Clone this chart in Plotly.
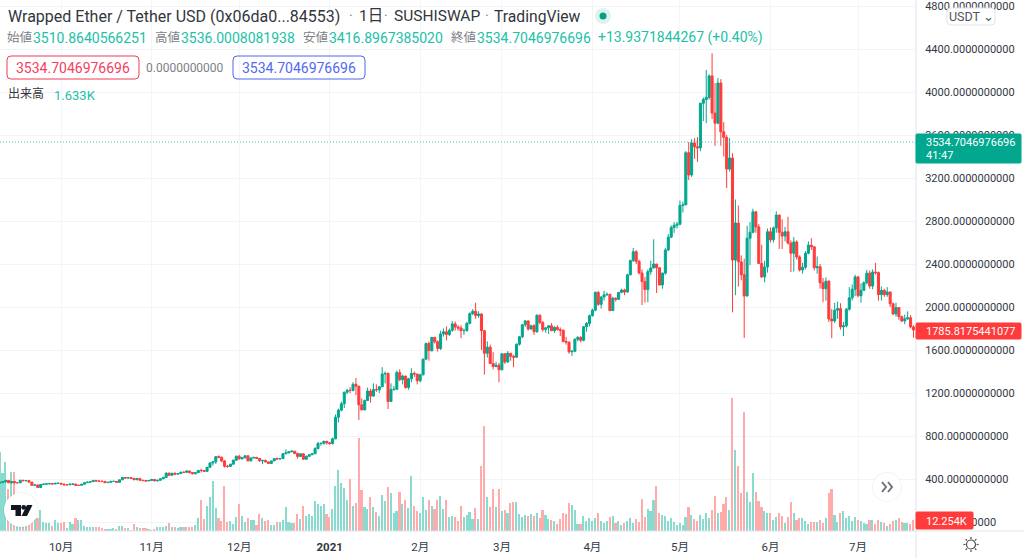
import math
import pandas as pd
import plotly.graph_objects as go

FIRST_DAY = "2020-09-10"

opens = [
    362,368,374,387,365,377,365,365,388,384,385,371,341,344,321,349,352,355,357,354,360,
    360,353,346,346,352,353,341,341,351,366,371,375,387,381,379,378,366,369,378,378,369,392,414,409,412,406,393,404,388,386,382,
    386,396,383,388,402,415,455,435,454,445,450,463,462,475,460,448,459,480,479,471,509,550,560,608,603,568,518,517,538,575,
    612,587,598,616,569,596,601,591,569,573,559,545,568,590,586,589,635,643,654,659,638,610,634,584,611,626,635,683,731,731,751,
    737,730,774,975,1040,1100,1208,1225,1224,1281,1262,1090,1043,1130,1218,1171,1233,1230,1257,1377,1382,1121,1233,1234,1390,1324,1357,1252,1332,1382,1376,
    1314,1369,1515,1660,1594,1718,1677,1614,1750,1769,1744,1783,1843,1813,1805,1780,1781,1848,1938,1960,1920,1935,1780,1570,1626,1475,1446,1459,
    1416,1565,1489,1570,1541,1533,1654,1723,1835,1870,1795,1826,1770,1924,1855,1791,1806,1825,1780,1811,1788,1784,1680,1673,1583,1588,1700,1716,1690,1817,1847,
    1919,1970,2136,2025,2093,2113,2117,1966,2082,2072,2136,2158,2139,2299,2432,2514,2424,2316,2236,2162,2329,2363,2400,2365,2205,2315,2530,2650,2740,2760,
    2770,2945,2950,3435,3228,3525,3490,3480,3895,3930,3950,4150,3804,3710,4083,3630,3578,3283,3386,2437,2781,2420,2300,2102,2640,2695,2885,2745,2405,2280,2372,
    2700,2625,2735,2855,2695,2660,2700,2595,2500,2605,2465,2345,2370,2500,2575,2560,2365,2375,2225,2170,2240,1888,1870,1970,1985,1815,1825,1980,2085,2165,
    2280,2105,2155,2225,2315,2195,2325,2320,2115,2155,2115,2140,2030,1935,1995,1910,1870,1890,1900,1815,
]
highs = [
    378,380,392,388,382,382,370,392,392,389,385,372,352,348,352,358,360,361,362,362,365,
    362,355,350,355,356,354,344,354,368,374,376,390,389,385,382,381,370,379,383,380,394,420,416,417,415,410,410,410,393,389,392,
    400,396,392,405,420,460,458,456,460,455,467,470,480,477,463,462,484,495,482,512,552,565,612,620,608,575,530,540,580,618,
    625,605,620,618,598,606,605,594,578,580,561,570,592,600,596,640,676,660,665,660,645,640,640,618,632,640,696,745,740,755,753,
    745,785,1000,1055,1120,1210,1240,1255,1300,1340,1270,1150,1140,1250,1240,1290,1280,1265,1440,1400,1390,1290,1265,1410,1420,1370,1360,1340,1430,1400,1380,
    1380,1520,1670,1680,1720,1700,1690,1780,1800,1820,1800,1870,1865,1830,1830,1800,1860,1950,1980,2040,1960,1940,1760,1680,1650,1580,1490,1480,
    1570,1570,1590,1570,1555,1660,1730,1840,1880,1875,1835,1840,1930,1930,1870,1815,1830,1850,1820,1830,1810,1790,1720,1680,1600,1710,1730,1730,1820,1860,1930,
    1985,2145,2150,2100,2150,2135,2125,2095,2090,2140,2170,2170,2310,2440,2550,2530,2440,2350,2280,2350,2430,2630,2400,2370,2320,2550,2680,2760,2790,2790,
    2990,2980,3450,3535,3560,3570,3580,3900,3950,4205,4165,4360,4083,4130,4120,3720,3600,3570,3430,3000,2945,2480,2450,2755,2790,2915,2895,2770,2580,2430,2730,
    2740,2750,2890,2860,2815,2745,2840,2620,2650,2620,2480,2410,2520,2610,2640,2565,2470,2400,2270,2275,2250,1980,2040,2050,2035,1860,1990,2185,2210,2300,
    2290,2220,2240,2345,2340,2350,2410,2330,2190,2170,2185,2140,2040,2040,2000,1920,1930,1960,1925,1830,
]
lows = [
    355,360,365,362,360,358,362,360,380,381,367,335,338,316,316,345,350,351,350,351,355,
    350,340,343,344,348,339,338,340,348,365,369,374,378,375,374,362,364,368,374,365,367,390,402,403,400,390,390,385,378,375,380,
    383,378,376,385,400,414,428,432,440,443,448,455,458,452,445,445,456,460,465,470,505,525,540,592,555,505,505,515,535,572,
    582,584,590,565,562,590,587,560,538,555,545,540,568,583,585,587,630,640,648,630,590,610,580,578,606,622,632,676,710,720,720,
    718,720,770,925,1030,1060,1190,1200,1215,1180,950,1040,1040,1125,1110,1170,1210,1200,1260,1290,1051,1130,1220,1235,1310,1280,1240,1232,1300,1350,1280,
    1300,1365,1510,1500,1585,1660,1585,1600,1725,1690,1730,1770,1780,1780,1710,1740,1770,1840,1925,1890,1900,1600,1370,1530,1470,1420,1440,1300,
    1410,1470,1480,1500,1440,1530,1640,1710,1815,1780,1790,1740,1760,1840,1770,1760,1750,1775,1760,1785,1730,1670,1650,1565,1545,1580,1680,1670,1680,1770,1820,
    1910,1960,2010,1985,2060,2105,1965,1965,2050,2065,2130,2110,2135,2295,2420,2400,2305,2018,2040,2045,2300,2360,2130,2200,2170,2300,2520,2640,2690,2730,
    2760,2880,2950,3180,3210,3380,3350,3450,3730,3710,3930,3750,3500,3700,3500,3400,3107,3260,1950,2110,2190,2250,1712,2100,2390,2685,2690,2400,2270,2230,2320,
    2600,2600,2690,2540,2540,2610,2580,2325,2330,2440,2330,2310,2350,2490,2530,2340,2310,2170,2045,2060,1860,1710,1850,1890,1790,1730,1810,1965,2060,2100,
    2090,2040,2150,2210,2170,2165,2300,2060,2060,2095,2095,2000,1925,1910,1880,1860,1840,1880,1800,1715,
]
closes = [
    368,374,387,365,377,365,365,388,384,385,371,341,344,321,349,352,355,357,354,360,360,
    353,346,346,352,353,341,341,351,366,371,375,387,381,379,378,366,369,378,378,369,392,414,409,412,406,393,404,388,386,382,386,
    396,383,388,402,415,455,435,454,445,450,463,462,475,460,448,459,480,479,471,509,550,560,608,603,568,518,517,538,575,612,
    587,598,616,569,596,601,591,569,573,559,545,568,590,586,589,635,643,654,659,638,610,634,584,611,626,635,683,731,731,751,737,
    730,774,975,1040,1100,1208,1225,1224,1281,1262,1090,1043,1130,1218,1171,1233,1230,1257,1377,1382,1121,1233,1234,1390,1324,1357,1252,1332,1382,1376,1314,
    1369,1515,1660,1594,1718,1677,1614,1750,1769,1744,1783,1843,1813,1805,1780,1781,1848,1938,1960,1920,1935,1780,1570,1626,1475,1446,1459,1416,
    1565,1489,1570,1541,1533,1654,1723,1835,1870,1795,1826,1770,1924,1855,1791,1806,1825,1780,1811,1788,1784,1680,1673,1583,1588,1700,1716,1690,1817,1847,1919,
    1970,2136,2025,2093,2113,2117,1966,2082,2072,2136,2158,2139,2299,2432,2514,2424,2316,2236,2162,2329,2363,2400,2365,2205,2315,2530,2650,2740,2760,2770,
    2945,2950,3435,3228,3525,3490,3480,3895,3930,3950,4150,3804,3710,4083,3630,3578,3283,3386,2437,2781,2420,2300,2102,2640,2695,2885,2745,2405,2280,2372,2700,
    2625,2735,2855,2695,2660,2700,2595,2500,2605,2465,2345,2370,2500,2575,2560,2365,2375,2225,2170,2240,1888,1870,1970,1985,1815,1825,1980,2085,2165,2280,
    2105,2155,2225,2315,2195,2325,2320,2115,2155,2115,2140,2030,1935,1995,1910,1870,1890,1900,1815,1785.8175441077,
]
volumes_k = [
    91,66,79,48,68,68,40,23,17,16,18,14,14,15,
    24,10,9,9,6,13,9,9,10,3,10,8,15,13,13,6,5,5,5,5,5,4,2,2,2,3,2,6,6,3,3,1,8,5,4,3,3,2,1,2,5,5,5,6,9,
    5,5,3,5,5,5,5,5,7,15,36,14,29,39,57,26,15,11,52,10,11,8,16,31,17,10,15,13,13,7,19,15,11,13,7,7,10,10,13,28,10,9,9,19,14,29,17,19,17,34,31,29,31,19,16,25,52,70,55,
    49,36,60,29,32,107,47,28,25,39,28,22,17,41,34,50,44,21,23,45,31,36,26,63,29,23,21,39,24,36,29,25,36,40,25,36,16,17,16,11,29,16,18,22,
    14,26,14,74,120,39,28,48,28,48,23,24,21,32,33,33,19,16,18,17,19,17,21,15,24,18,14,13,11,8,14,21,19,32,30,24,8,8,17,11,15,11,15,21,11,9,11,16,17,9,11,
    7,9,11,15,9,14,10,37,16,25,23,36,52,21,18,17,11,15,10,7,9,7,16,28,18,14,11,18,14,21,15,24,40,21,22,31,39,24,152,93,74,44,136,45,33,66,45,34,28,23,21,21,13,16,21,17,9,16,33,21,13,15,15,11,8,10,10,10,13,9,15,44,48,18,10,21,23,15,17,11,16,13,11,9,8,13,13,8,13,10,9,6,8,11,13,15,10,9,9,8,12.254,
]

month_ticks = ["2020-10-01","2020-11-01","2020-12-01","2021-01-01","2021-02-01","2021-03-01","2021-04-01","2021-05-01","2021-06-01","2021-07-01"]
month_labels = ["10月","11月","12月","<b>2021</b>","2月","3月","4月","5月","6月","7月"]
price_ticks = [0,400,800,1200,1600,2000,2400,2800,3200,3600,4000,4400,4800]

symbol_title = "Wrapped Ether / Tether USD (0x06da0...84553)"
interval_label = "1日"
exchange_label = "SUSHISWAP"
platform_label = "TradingView"
ohlc_names = ["始値","高値","安値","終値"]
ohlc_values = ["3510.8640566251","3536.0008081938","3416.8967385020","3534.7046976696"]
change_label = "+13.9371844267 (+0.40%)"
last_price = 3534.7046976696
current_volume = "1.633K"

TEAL = "#02A78F"
RED = "#FF3B3B"
TEAL_VOL = "#8ADBCF"
RED_VOL = "#FFABAB"
TEAL_TEXT = "#22BFA8"
GRID = "#F3F4F7"
BORDER = "#E0E3EB"
INK = "#333842"
GREY = "#7C7F87"
FONT = "Roboto, 'Noto Sans CJK JP', sans-serif"

W, H = 1024, 558
PLOT_R, PLOT_B = 916, 531

def fx(px): return px / W
def fy(py): return 1 - py / H

def rrect(x0, y0, x1, y1, r=3):
    return ("M{a},{b} L{c},{b} Q{d},{b} {d},{e} L{d},{f} Q{d},{g} {c},{g} L{a},{g} Q{h},{g} {h},{f} L{h},{e} Q{h},{b} {a},{b} Z"
            .format(a=fx(x0+r), b=fy(y0), c=fx(x1-r), d=fx(x1), e=fy(y0+r), f=fy(y1-r), g=fy(y1), h=fx(x0)))

def box(x0, y0, x1, y1, fill, line, r=3, width=1):
    return dict(type="path", xref="paper", yref="paper", path=rrect(x0, y0, x1, y1, r), fillcolor=fill,
                line=dict(color=line, width=width), layer="above")

def circle(cx, cy, r, fill, line="rgba(0,0,0,0)", width=1):
    return dict(type="circle", xref="paper", yref="paper", x0=fx(cx-r), x1=fx(cx+r), y0=fy(cy+r), y1=fy(cy-r),
                fillcolor=fill, line=dict(color=line, width=width), layer="above")

def path(points, fill="rgba(0,0,0,0)", line="rgba(0,0,0,0)", width=1, close=True):
    d = "M" + " L".join(f"{fx(x)},{fy(y)}" for x, y in points) + (" Z" if close else "")
    return dict(type="path", xref="paper", yref="paper", path=d, fillcolor=fill, line=dict(color=line, width=width), layer="above")

def text(px, py, s, color=INK, size=14, anchor="left"):
    return dict(x=fx(px), y=fy(py), xref="paper", yref="paper", text=s, showarrow=False, xanchor=anchor, yanchor="middle",
                font=dict(family=FONT, size=size, color=color), borderpad=0, borderwidth=0, align=anchor)

dates = pd.date_range(FIRST_DAY, periods=len(closes), freq="D")
vol_colors = [TEAL_VOL if c >= o else RED_VOL for o, c in zip(opens, closes)]

fig = go.Figure()
fig.add_trace(go.Bar(x=dates, y=volumes_k, marker=dict(color=vol_colors, line=dict(width=0)),
                     width=86400000*0.56, yaxis="y", xaxis="x", hoverinfo="skip", showlegend=False))
fig.add_trace(go.Candlestick(x=dates, open=opens, high=highs, low=lows, close=closes, yaxis="y2", xaxis="x",
                             whiskerwidth=0, showlegend=False, hoverinfo="skip",
                             increasing=dict(line=dict(color=TEAL, width=1), fillcolor=TEAL),
                             decreasing=dict(line=dict(color=RED, width=1), fillcolor=RED)))

shapes = [
    dict(type="line", xref="paper", yref="y2", x0=0, x1=fx(PLOT_R), y0=last_price, y1=last_price,
         line=dict(color="#4FC4B3", width=1, dash="1px,2px"), layer="above"),
    dict(type="line", xref="paper", yref="paper", x0=fx(PLOT_R), x1=fx(PLOT_R), y0=0, y1=1, line=dict(color=BORDER, width=1), layer="above"),
    dict(type="line", xref="paper", yref="paper", x0=0, x1=1, y0=fy(PLOT_B), y1=fy(PLOT_B), line=dict(color=BORDER, width=1), layer="above"),
    # legend boxes
    box(7, 56, 139, 79, "rgba(255,255,255,0)", "#F23B57", 4),
    box(233, 56, 365, 79, "rgba(255,255,255,0)", "#4F67EE", 4),
    # status dot
    circle(603, 16, 8, "#DDF3EF"),
    circle(603, 16, 3.5, "#03A184"),
    # currency button
    box(947, 8, 995, 25, "#FFFFFF", BORDER, 4),
    # price flags
    box(916, 134, 1021, 163, TEAL, TEAL, 1),
    box(916, 323, 1021, 339, RED, RED, 1),
    box(916, 512, 973, 529, RED, RED, 1),
    # logo
    circle(21, 510, 18, "rgba(0,0,0,0.05)"),
    circle(21, 510, 17, "#FFFFFF"),
    path([(11,505),(21,505),(21,516),(15.5,516),(15.5,510),(11,510)], "#131722"),
    circle(23.7, 507.4, 2.4, "#131722"),
    path([(32.5,505),(27,516),(21.5,516),(27,505)], "#131722"),
    # scroll button
    circle(887, 487, 15, "rgba(0,0,0,0.05)"),
    circle(887, 487, 14, "#FFFFFF"),
    path([(882,482),(886,487),(882,492)], line="#6F737C", width=2, close=False),
    path([(888,482),(892,487),(888,492)], line="#6F737C", width=2, close=False),
    # settings icon
    circle(971, 544.5, 4.5, "#FFFFFF", "#4A4D55", 1.2),
]
for i in range(8):
    a = i * math.pi / 4
    shapes.append(path([(971+5.6*math.cos(a), 544.5+5.6*math.sin(a)), (971+7.6*math.cos(a), 544.5+7.6*math.sin(a))],
                       line="#4A4D55", width=1.2, close=False))

annotations = [
    text(8, 16, symbol_title, "#33363D", 16),
    text(349, 16, "·", GREY, 14),
    text(359, 16, interval_label, "#33363D", 15.5),
    text(384, 16, "·", GREY, 14),
    text(394, 16, exchange_label, "#33363D", 15.5),
    text(485, 16, "·", GREY, 14),
    text(494, 16, platform_label, "#33363D", 15.7),
    text(7, 38, ohlc_names[0], GREY, 12.5),
    text(33, 38, ohlc_values[0], TEAL_TEXT, 14),
    text(155, 38, ohlc_names[1], GREY, 12.5),
    text(181, 38, ohlc_values[1], TEAL_TEXT, 14),
    text(303, 38, ohlc_names[2], GREY, 12.5),
    text(329, 38, ohlc_values[2], TEAL_TEXT, 14),
    text(451, 38, ohlc_names[3], GREY, 12.5),
    text(477, 38, ohlc_values[3], TEAL_TEXT, 14),
    text(598, 38, change_label, TEAL_TEXT, 14),
    text(73, 67.5, f"{last_price:.10f}", "#F5405F", 14, "center"),
    text(146, 68, "0.0000000000", GREY, 12),
    text(299, 67.5, f"{last_price:.10f}", "#5069F0", 14, "center"),
    text(8, 94, "出来高", "#33363D", 12),
    text(54, 95, current_volume, TEAL_TEXT, 13),
    text(971, 16, "USDT ⌄", "#4F525B", 12.5, "center"),
    text(926, 142, f"{last_price:.10f}", "#FFFFFF", 11),
    text(926, 156, "41:47", "#FFFFFF", 11),
    text(926, 331, f"{closes[-1]:.10f}", "#FFFFFF", 11),
    text(926, 521, f"{volumes_k[-1]:.3f}K", "#FFFFFF", 11),
]

price_top = (522 - 0) / 0.1075
price_bottom = (522 - PLOT_B) / 0.1075

fig.update_layout(
    width=W, height=H, margin=dict(l=0, r=0, t=0, b=0, autoexpand=False),
    paper_bgcolor="#FFFFFF", plot_bgcolor="#FFFFFF", showlegend=False, barmode="overlay", bargap=0, boxgap=0,
    font=dict(family=FONT, color=INK), hovermode=False, dragmode=False,
    xaxis=dict(type="date", domain=[0, fx(PLOT_R)], anchor="y", range=["2020-09-10 01:38", "2021-07-20 20:33"],
               tickvals=month_ticks, ticktext=month_labels, tickangle=0, ticks="outside", ticklen=5,
               tickcolor="rgba(0,0,0,0)", tickfont=dict(family=FONT, size=11.5, color=INK),
               showgrid=True, gridcolor=GRID, gridwidth=1, zeroline=False, showline=False,
               rangeslider=dict(visible=False)),
    yaxis=dict(domain=[fy(PLOT_B), 1], anchor="x", range=[0, PLOT_B * 1.146], showticklabels=False, ticks="",
               showgrid=False, zeroline=False, showline=False),
    yaxis2=dict(domain=[fy(PLOT_B), 1], anchor="x", overlaying="y", side="right", range=[price_bottom, price_top],
                tickvals=price_ticks, tickformat=".10f", ticks="outside", ticklen=6, tickcolor="rgba(0,0,0,0)",
                tickfont=dict(family=FONT, size=11, color=INK), showgrid=True, gridcolor=GRID, gridwidth=1,
                zeroline=False, showline=False, ticklabeloverflow="allow"),
    shapes=shapes, annotations=annotations,
)

fig.write_html("out.html", config=dict(displayModeBar=False, responsive=False),
               post_script="document.body.style.margin='0';document.body.style.overflow='hidden';")
